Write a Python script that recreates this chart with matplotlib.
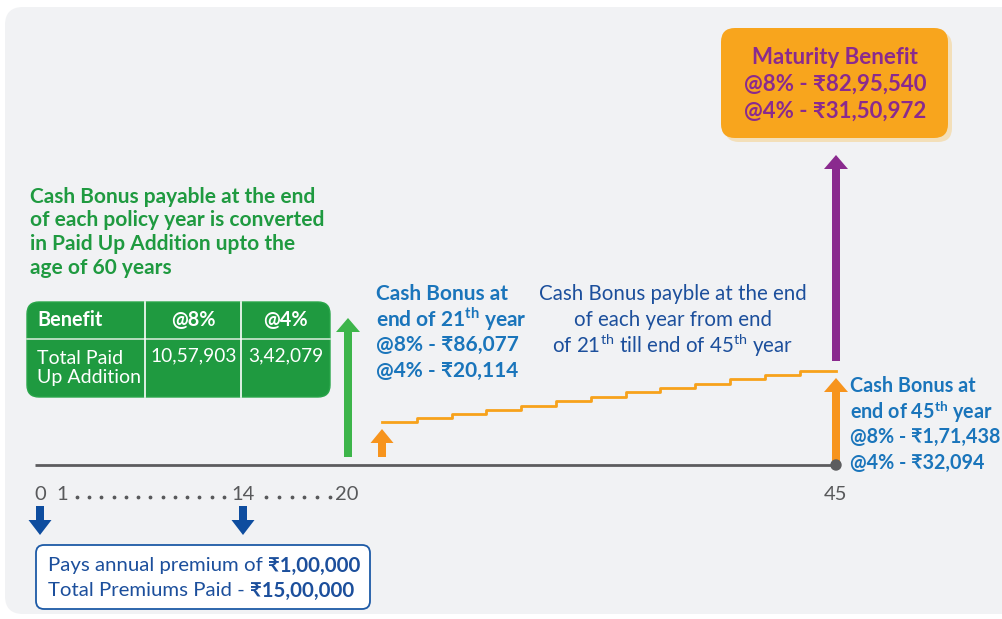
import numpy as np
import matplotlib.pyplot as plt
from matplotlib.patches import FancyBboxPatch, FancyArrow, Circle

plt.rcParams['font.family'] = ['Lato', 'DejaVu Sans']
plt.rcParams['mathtext.fontset'] = 'custom'
plt.rcParams['mathtext.rm'] = 'Lato'
plt.rcParams['mathtext.bf'] = 'Lato:bold'

# ---- data ----
timeline_labels = ["0", "1", "14", "20", "45"]
label_x = [40, 62, 243, 347, 836]
premium_years_x = [40, 243]          # down arrows: premium paid
stair_rise = [0, 4, 8, 12, 16.5, 21, 25.5, 30, 34, 38.5, 43, 47, 51.5]  # cash bonus steps yr 21..45

table_header = ["Benefit", "@8%", "@4%"]
table_row = ["Total Paid\nUp Addition", "10,57,903", "3,42,079"]

green_note = ["Cash Bonus payable at the end", "of each policy year is converted",
              "in Paid Up Addition upto the", "age of 60 years"]
bonus21 = ["Cash Bonus at", r"end of 21$^{\mathbf{th}}$ year", "@8% - ₹86,077", "@4% - ₹20,114"]
bonus_mid = ["Cash Bonus payble at the end", "of each year from end",
             r"of 21$^{\mathrm{th}}$ till end of 45$^{\mathrm{th}}$ year"]
bonus45 = ["Cash Bonus at", r"end of 45$^{\mathbf{th}}$ year", "@8% - ₹1,71,438", "@4% - ₹32,094"]
maturity = ["Maturity Benefit", "@8% - ₹82,95,540", "@4% - ₹31,50,972"]
premium_text = [("Pays annual premium of ", "₹1,00,000"), ("Total Premiums Paid - ", "₹15,00,000")]

GREEN = "#1f9a40"
BLUE = "#1a75bb"
DBLUE = "#1c4f9c"
ORANGE = "#f7941d"
PURPLE = "#8a2a8e"

fig = plt.figure(figsize=(10.02, 6.19), dpi=100)
ax = fig.add_axes([0, 0, 1, 1])
ax.set_xlim(0, 1002)
ax.set_ylim(619, 0)
ax.axis('off')

# background panel
ax.add_patch(FancyBboxPatch((5, 7), 1030, 607, boxstyle="round,pad=0,rounding_size=18",
                            fc="#f1f2f4", ec="none", zorder=0))

# timeline
ax.plot([35, 836], [465, 465], color="#5c5c5e", lw=2, zorder=2, solid_capstyle='butt')
ax.add_patch(Circle((836, 465), 5, color="#5c5c5e", zorder=4))
for t, x in zip(timeline_labels, label_x):
    ax.text(x, 494, t, ha='center', va='center', fontsize=14.5, color="#58595b")
for x0, x1, n in [(77, 224, 13), (266, 330, 6)]:
    ax.scatter(np.linspace(x0, x1, n), [497] * n, s=3, color="#58595b", zorder=3)

def up_arrow(x, y0, y1, color, w=8, hw=24, hl=14):
    ax.add_patch(FancyArrow(x, y0, 0, y1 - y0, width=w, head_width=hw, head_length=hl,
                            length_includes_head=True, color=color, lw=0, zorder=3))

# premium arrows
for x in premium_years_x:
    up_arrow(x, 506, 535, "#0e4d9f", w=8, hw=23, hl=15)

# premium box
ax.add_patch(FancyBboxPatch((36, 545), 334, 64, boxstyle="round,pad=0,rounding_size=8",
                            fc="white", ec="#1d5aa6", lw=1.3, zorder=2))
for i, (norm, bold) in enumerate(premium_text):
    t = ax.text(48, 566 + i * 25, norm, ha='left', va='center', fontsize=14.7, color=DBLUE, zorder=3)
    ax.annotate(bold, xy=(1, 0.5), xycoords=t, ha='left', va='center', fontsize=14.7,
                fontweight='bold', color=DBLUE, zorder=3)

# arrows on timeline
up_arrow(348, 457, 318, "#3db54a")
up_arrow(382, 457, 429, ORANGE, w=8, hw=23, hl=14)
up_arrow(836, 361, 155, PURPLE, w=8, hw=24, hl=14)
up_arrow(836, 461, 378, ORANGE, w=8, hw=24, hl=14)

# staircase of cash bonus
sx = [382 + 34.8 * i for i in range(len(stair_rise))] + [836]
sy = [422 - r for r in stair_rise] + [422 - stair_rise[-1]]
ax.step(sx, sy, where='post', color="#f7a21b", lw=2, zorder=2)

# green note
for i, line in enumerate(green_note):
    ax.text(30, 197 + i * 23.5, line, ha='left', va='center', fontsize=15,
            fontweight='bold', color=GREEN)

# green table
ax.add_patch(FancyBboxPatch((27, 302), 303, 95, boxstyle="round,pad=0,rounding_size=12",
                            fc=GREEN, ec="#2aa64a", lw=1, zorder=2))
ax.plot([27, 330], [339, 339], color="#cfe8d3", lw=1.2, zorder=3)
for x in [145, 241]:
    ax.plot([x, x], [302, 397], color="white", lw=1.2, zorder=3)
ax.text(37, 320, table_header[0], ha='left', va='center', fontsize=14.3, fontweight='bold', color='white', zorder=4)
ax.text(193, 320, table_header[1], ha='center', va='center', fontsize=14.3, fontweight='bold', color='white', zorder=4)
ax.text(285, 320, table_header[2], ha='center', va='center', fontsize=14.3, fontweight='bold', color='white', zorder=4)
ax.text(37, 368, table_row[0], ha='left', va='center', fontsize=14, color='white', linespacing=1.15, zorder=4)
ax.text(194, 356, table_row[1], ha='center', va='center', fontsize=13.8, color='white', zorder=4)
ax.text(286, 356, table_row[2], ha='center', va='center', fontsize=13.8, color='white', zorder=4)

# blue texts
for i, line in enumerate(bonus21):
    ax.text(376, 294 + i * 25.5, line, ha='left', va='center', fontsize=15, fontweight='bold', color=BLUE)
for i, line in enumerate(bonus_mid):
    ax.text(673, 294 + i * 25.5, line, ha='center', va='center', fontsize=14.8, color=DBLUE)
for i, line in enumerate(bonus45):
    ax.text(850, 386 + i * 25.5, line, ha='left', va='center', fontsize=14.2, fontweight='bold', color=BLUE)

# maturity box
ax.add_patch(FancyBboxPatch((725, 32), 227, 110, boxstyle="round,pad=0,rounding_size=14",
                            fc="#f3dfb9", ec="none", zorder=2))
ax.add_patch(FancyBboxPatch((721, 28), 227, 110, boxstyle="round,pad=0,rounding_size=14",
                            fc="#f8a51d", ec="none", zorder=3))
for i, line in enumerate(maturity):
    ax.text(835, 57 + i * 27, line, ha='center', va='center', fontsize=16,
            fontweight='bold', color=PURPLE, zorder=4)

fig.savefig("out.png", dpi=100, facecolor="white")
